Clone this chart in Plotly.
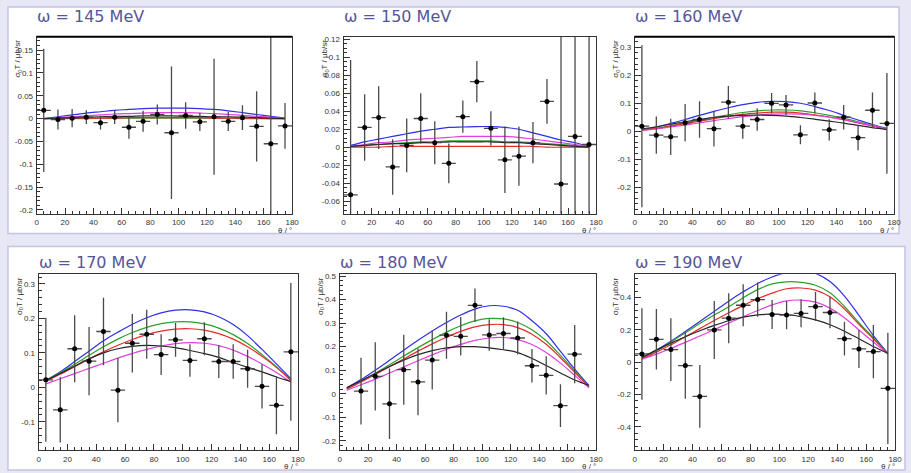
import plotly.graph_objects as go

# ---------------- data: target-asymmetry observable vs. pion angle ----------------
ENERGIES = [145, 150, 160, 170, 180, 190]          # photon energy in MeV
THETA_PTS = [5, 15, 25, 35, 45, 55, 65, 75, 85, 95, 105, 115, 125, 135, 145, 155, 165, 175]
THETA_PTS_180 = [15, 25, 35, 45, 55, 65, 75, 85, 95, 105, 115, 125, 135, 145, 155, 165]
THETA_HALF_BIN = 5
CURVE_THETA = [5, 15, 25, 35, 45, 55, 65, 75, 85, 95, 105, 115, 125, 135, 145, 155, 165, 175]

VAL_145 = [0.018, -0.002, 0.001, 0.003, -0.009, 0.003, -0.019, -0.006, 0.009, -0.031,
           0.007, -0.007, 0.004, -0.006, 0.002, -0.017, -0.055, -0.016]
ERR_145 = [0.135, 0.022, 0.020, 0.015, 0.015, 0.015, 0.025, 0.023, 0.022, 0.145,
           0.029, 0.020, 0.127, 0.021, 0.027, 0.077, 0.300, 0.050]

VAL_150 = [-0.053, 0.022, 0.033, -0.022, 0.002, 0.032, 0.005, -0.018, 0.034, 0.073,
           0.021, -0.014, -0.010, 0.005, 0.051, -0.041, 0.012, 0.003]
ERR_150 = [0.150, 0.037, 0.035, 0.031, 0.030, 0.028, 0.024, 0.022, 0.018, 0.023,
           0.019, 0.037, 0.033, 0.023, 0.025, 0.200, 0.200, 0.200]

VAL_160 = [0.018, -0.014, -0.020, 0.030, 0.042, 0.009, 0.104, 0.018, 0.042, 0.100,
           0.094, -0.013, 0.101, 0.005, 0.050, -0.023, 0.075, 0.028]
ERR_160 = [0.290, 0.067, 0.065, 0.067, 0.065, 0.064, 0.058, 0.045, 0.040, 0.037,
           0.036, 0.034, 0.038, 0.038, 0.044, 0.045, 0.064, 0.180]

VAL_170 = [0.022, -0.065, 0.112, 0.076, 0.162, -0.008, 0.128, 0.154, 0.095, 0.138,
           0.078, 0.141, 0.075, 0.075, 0.054, 0.003, -0.052, 0.103]
ERR_170 = [0.180, 0.095, 0.097, 0.099, 0.098, 0.093, 0.085, 0.071, 0.059, 0.049,
           0.047, 0.048, 0.048, 0.050, 0.055, 0.064, 0.084, 0.200]

VAL_180 = [0.011, 0.074, -0.043, 0.102, 0.050, 0.143, 0.249, 0.244, 0.376, 0.250,
           0.256, 0.237, 0.119, 0.078, -0.051, 0.168]
ERR_180 = [0.142, 0.145, 0.150, 0.149, 0.142, 0.125, 0.100, 0.082, 0.071, 0.067,
           0.069, 0.070, 0.071, 0.081, 0.091, 0.124]

VAL_190 = [0.051, 0.142, 0.078, -0.021, -0.212, 0.200, 0.273, 0.353, 0.388, 0.296,
           0.292, 0.302, 0.345, 0.308, 0.146, 0.082, 0.066, -0.162]
ERR_190 = [0.283, 0.188, 0.195, 0.205, 0.195, 0.180, 0.155, 0.130, 0.106, 0.090,
           0.088, 0.086, 0.090, 0.097, 0.105, 0.118, 0.165, 0.345]

# model predictions sampled on CURVE_THETA
BLUE_145 = [0.000, 0.004, 0.008, 0.012, 0.015, 0.018, 0.020, 0.022, 0.023, 0.023,
            0.023, 0.022, 0.020, 0.017, 0.013, 0.009, 0.005, 0.001]
GREEN_145 = [0.000, 0.000, 0.000, 0.000, 0.001, 0.001, 0.001, 0.001, 0.001, 0.001,
             0.001, 0.001, 0.001, 0.001, 0.000, 0.000, 0.000, 0.000]
RED_145 = [0.000, 0.000, 0.001, 0.001, 0.001, 0.001, 0.002, 0.002, 0.002, 0.002,
           0.002, 0.002, 0.001, 0.001, 0.001, 0.001, 0.000, 0.000]
MAGENTA_145 = [0.000, 0.002, 0.004, 0.006, 0.008, 0.010, 0.011, 0.012, 0.013, 0.013,
               0.013, 0.012, 0.011, 0.009, 0.007, 0.005, 0.003, 0.000]
BLACK_145 = [0.000, 0.001, 0.002, 0.003, 0.004, 0.005, 0.005, 0.006, 0.006, 0.006,
             0.005, 0.005, 0.004, 0.004, 0.003, 0.002, 0.001, 0.000]

BLUE_150 = [0.002, 0.006, 0.009, 0.012, 0.015, 0.018, 0.020, 0.022, 0.0225, 0.023,
            0.023, 0.022, 0.020, 0.016, 0.012, 0.008, 0.005, 0.001]
GREEN_150 = [0.001, 0.002, 0.003, 0.004, 0.005, 0.006, 0.006, 0.007, 0.007, 0.007,
             0.007, 0.006, 0.006, 0.005, 0.004, 0.003, 0.002, 0.000]
RED_150 = [0.000, 0.000, 0.000, 0.001, 0.001, 0.001, 0.001, 0.001, 0.001, 0.001,
           0.001, 0.001, 0.001, 0.001, 0.000, 0.000, 0.000, 0.000]
MAGENTA_150 = [0.001, 0.003, 0.005, 0.006, 0.008, 0.009, 0.010, 0.011, 0.012, 0.012,
               0.012, 0.012, 0.011, 0.009, 0.007, 0.005, 0.003, 0.001]
BLACK_150 = [0.001, 0.002, 0.003, 0.004, 0.004, 0.005, 0.005, 0.006, 0.006, 0.006,
             0.006, 0.005, 0.005, 0.004, 0.003, 0.002, 0.001, 0.000]

BLUE_160 = [0.005, 0.015, 0.028, 0.042, 0.057, 0.071, 0.084, 0.095, 0.103, 0.107,
            0.106, 0.100, 0.088, 0.074, 0.057, 0.040, 0.024, 0.010]
GREEN_160 = [0.004, 0.011, 0.020, 0.030, 0.040, 0.050, 0.059, 0.067, 0.073, 0.076,
             0.076, 0.073, 0.066, 0.057, 0.046, 0.034, 0.021, 0.008]
RED_160 = [0.004, 0.010, 0.018, 0.027, 0.036, 0.045, 0.053, 0.060, 0.065, 0.068,
           0.068, 0.065, 0.059, 0.051, 0.041, 0.030, 0.019, 0.007]
MAGENTA_160 = [0.003, 0.008, 0.015, 0.022, 0.030, 0.038, 0.045, 0.052, 0.057, 0.061,
               0.062, 0.061, 0.057, 0.050, 0.041, 0.031, 0.020, 0.008]
BLACK_160 = [0.008, 0.016, 0.025, 0.034, 0.042, 0.049, 0.054, 0.057, 0.058, 0.057,
             0.054, 0.049, 0.043, 0.036, 0.029, 0.021, 0.013, 0.006]

BLUE_170 = [0.020, 0.045, 0.075, 0.105, 0.135, 0.160, 0.183, 0.202, 0.216, 0.224,
            0.225, 0.219, 0.205, 0.182, 0.150, 0.110, 0.068, 0.025]
GREEN_170 = [0.020, 0.042, 0.067, 0.093, 0.118, 0.140, 0.159, 0.174, 0.185, 0.190,
             0.190, 0.184, 0.172, 0.153, 0.127, 0.095, 0.060, 0.022]
RED_170 = [0.018, 0.038, 0.060, 0.082, 0.103, 0.122, 0.139, 0.153, 0.163, 0.169,
           0.170, 0.166, 0.156, 0.140, 0.118, 0.090, 0.058, 0.020]
MAGENTA_170 = [0.010, 0.025, 0.040, 0.055, 0.070, 0.085, 0.098, 0.110, 0.120, 0.127,
               0.130, 0.128, 0.121, 0.108, 0.090, 0.068, 0.043, 0.015]
BLACK_170 = [0.020, 0.040, 0.062, 0.083, 0.100, 0.112, 0.119, 0.122, 0.120, 0.115,
             0.107, 0.098, 0.087, 0.072, 0.058, 0.045, 0.030, 0.017]

BLUE_180 = [0.025, 0.060, 0.100, 0.142, 0.185, 0.227, 0.267, 0.303, 0.335, 0.360,
            0.374, 0.372, 0.355, 0.310, 0.255, 0.180, 0.105, 0.035]
GREEN_180 = [0.020, 0.052, 0.087, 0.123, 0.160, 0.196, 0.230, 0.262, 0.289, 0.310,
             0.320, 0.318, 0.303, 0.272, 0.225, 0.163, 0.097, 0.030]
RED_180 = [0.020, 0.050, 0.082, 0.115, 0.148, 0.181, 0.212, 0.240, 0.265, 0.284,
           0.294, 0.294, 0.281, 0.253, 0.210, 0.153, 0.091, 0.030]
MAGENTA_180 = [0.015, 0.038, 0.062, 0.088, 0.114, 0.140, 0.165, 0.189, 0.210, 0.227,
               0.237, 0.239, 0.230, 0.209, 0.175, 0.130, 0.078, 0.025]
BLACK_180 = [0.025, 0.055, 0.086, 0.116, 0.143, 0.166, 0.183, 0.195, 0.200, 0.200,
             0.195, 0.187, 0.175, 0.150, 0.120, 0.088, 0.058, 0.035]

BLUE_190 = [0.025, 0.075, 0.130, 0.190, 0.252, 0.315, 0.378, 0.436, 0.488, 0.528,
            0.556, 0.565, 0.550, 0.500, 0.410, 0.290, 0.165, 0.055]
GREEN_190 = [0.025, 0.070, 0.125, 0.182, 0.240, 0.293, 0.343, 0.400, 0.450, 0.485,
             0.498, 0.495, 0.477, 0.430, 0.345, 0.245, 0.150, 0.055]
RED_190 = [0.020, 0.062, 0.108, 0.158, 0.208, 0.258, 0.306, 0.352, 0.393, 0.428,
           0.455, 0.460, 0.447, 0.405, 0.330, 0.235, 0.145, 0.055]
MAGENTA_190 = [0.018, 0.050, 0.085, 0.123, 0.162, 0.202, 0.242, 0.282, 0.320, 0.355,
               0.380, 0.385, 0.372, 0.335, 0.275, 0.200, 0.125, 0.050]
BLACK_190 = [0.030, 0.075, 0.118, 0.158, 0.195, 0.228, 0.257, 0.279, 0.293, 0.298,
             0.294, 0.283, 0.262, 0.232, 0.192, 0.145, 0.097, 0.055]

X_TICKS = [0, 20, 40, 60, 80, 100, 120, 140, 160, 180]
Y_TICKS_145 = [-0.2, -0.15, -0.1, -0.05, 0, 0.05, 0.1, 0.15]
Y_TICKS_150 = [-0.06, -0.04, -0.02, 0, 0.02, 0.04, 0.06, 0.08, 0.1, 0.12]
Y_TICKS_160 = [-0.2, -0.1, 0, 0.1, 0.2, 0.3]
Y_TICKS_170 = [-0.1, 0, 0.1, 0.2, 0.3]
Y_TICKS_180 = [-0.2, -0.1, 0, 0.1, 0.2, 0.3, 0.4, 0.5]
Y_TICKS_190 = [-0.4, -0.2, 0, 0.2, 0.4]

PANELS = [
    (THETA_PTS, VAL_145, ERR_145, [BLUE_145, GREEN_145, RED_145, MAGENTA_145, BLACK_145], Y_TICKS_145),
    (THETA_PTS, VAL_150, ERR_150, [BLUE_150, GREEN_150, RED_150, MAGENTA_150, BLACK_150], Y_TICKS_150),
    (THETA_PTS, VAL_160, ERR_160, [BLUE_160, GREEN_160, RED_160, MAGENTA_160, BLACK_160], Y_TICKS_160),
    (THETA_PTS, VAL_170, ERR_170, [BLUE_170, GREEN_170, RED_170, MAGENTA_170, BLACK_170], Y_TICKS_170),
    (THETA_PTS_180, VAL_180, ERR_180, [BLUE_180, GREEN_180, RED_180, MAGENTA_180, BLACK_180], Y_TICKS_180),
    (THETA_PTS, VAL_190, ERR_190, [BLUE_190, GREEN_190, RED_190, MAGENTA_190, BLACK_190], Y_TICKS_190),
]

# ---------------- styling / geometry ----------------
W, H = 911, 473
MODEL_COLORS = ["#2f2fe6", "#2ca02c", "#e62b2b", "#e040e0", "#262626"]
TITLE_COLOR = "#55559a"
AXIS_COLOR = "#333333"
PAGE_BG = "#e7e7f5"
PANEL_EDGE = "#c3c3e6"

# plot frame boxes in pixels: (left, right, top, bottom)
BOXES = [
    (35, 293, 35, 213),
    (345, 600, 35, 213),
    (639, 901, 35, 213),
    (37, 299, 274, 451),
    (341, 600, 274, 451),
    (639, 902, 274, 451),
]
TITLE_GAP = [20, 20, 20, 12, 12, 12]
Y_RANGES = [(-0.208, 0.179), (-0.074, 0.123), (-0.295, 0.338),
            (-0.182, 0.328), (-0.24, 0.508), (-0.545, 0.545)]
Y_MINOR = [0.01, 0.005, 0.02, 0.02, 0.02, 0.04]
THICK_TOP = [True, False, True, False, False, False]


def px_x(p):
    return p / W


def px_y(p):
    return 1 - p / H


fig = go.Figure()
shapes = [
    dict(type="rect", xref="paper", yref="paper", x0=px_x(6), x1=px_x(906),
         y0=px_y(233), y1=px_y(5), fillcolor="white",
         line=dict(color=PANEL_EDGE, width=1.5), layer="below"),
    dict(type="rect", xref="paper", yref="paper", x0=px_x(6), x1=px_x(912),
         y0=px_y(471), y1=px_y(246), fillcolor="white",
         line=dict(color=PANEL_EDGE, width=1.5), layer="below"),
]
annotations = []

tick_font = dict(family="Liberation Sans, Arial, sans-serif", size=8, color=AXIS_COLOR)
small_font = dict(family="Liberation Sans, Arial, sans-serif", size=8, color=AXIS_COLOR)

for i, (theta, vals, errs, curves, yticks) in enumerate(PANELS):
    n = i + 1
    xa = "x" if n == 1 else f"x{n}"
    ya = "y" if n == 1 else f"y{n}"
    left, right, top, bottom = BOXES[i]

    for color, curve in zip(MODEL_COLORS, curves):
        fig.add_trace(go.Scatter(
            x=CURVE_THETA, y=curve, mode="lines", xaxis=xa, yaxis=ya,
            line=dict(color=color, width=1.2, shape="spline", smoothing=1.0),
            hoverinfo="skip", showlegend=False))

    fig.add_trace(go.Scatter(
        x=theta, y=vals, mode="markers", xaxis=xa, yaxis=ya,
        marker=dict(color="black", size=5, symbol="circle"),
        error_y=dict(type="data", array=errs, color="#4a4a4a", thickness=1.3, width=0),
        error_x=dict(type="constant", value=THETA_HALF_BIN, color="#4a4a4a", thickness=1.3, width=0),
        showlegend=False))

    axis_common = dict(
        showgrid=False, zeroline=False, showline=True, mirror=True,
        linecolor=AXIS_COLOR, linewidth=1, ticks="inside", ticklen=6,
        tickwidth=1, tickcolor=AXIS_COLOR, tickfont=tick_font,
    )
    fig.layout[f"xaxis{'' if n == 1 else n}"] = dict(
        axis_common, domain=[px_x(left), px_x(right)], range=[0, 180],
        anchor=ya, tickmode="array", tickvals=X_TICKS,
        ticktext=[str(t) for t in X_TICKS], ticklabelstandoff=1,
        minor=dict(ticks="inside", ticklen=3, tickcolor=AXIS_COLOR, dtick=5, tick0=0),
    )
    fig.layout[f"yaxis{'' if n == 1 else n}"] = dict(
        axis_common, domain=[px_y(bottom), px_y(top)], range=list(Y_RANGES[i]),
        anchor=xa, tickmode="array", tickvals=yticks,
        ticktext=[f"{t:g}" for t in yticks], ticklabelstandoff=1,
        minor=dict(ticks="inside", ticklen=3, tickcolor=AXIS_COLOR,
                   dtick=Y_MINOR[i], tick0=0),
    )

    if THICK_TOP[i]:
        shapes.append(dict(type="line", xref="paper", yref="paper",
                           x0=px_x(left), x1=px_x(right), y0=px_y(top), y1=px_y(top),
                           line=dict(color="black", width=2)))

    annotations.append(dict(
        text=f"ω = {ENERGIES[i]} MeV", xref="paper", yref="paper",
        x=px_x(left - 2), y=px_y(top - TITLE_GAP[i]), xanchor="left", yanchor="middle",
        showarrow=False, font=dict(family="DejaVu Sans, sans-serif", size=16, color=TITLE_COLOR)))
    annotations.append(dict(
        text="σ<sub>0</sub>T / μb/sr", xref="paper", yref="paper",
        x=px_x(left - 19), y=px_y(top + 1), xanchor="center", yanchor="top",
        textangle=-90, showarrow=False, font=small_font))
    annotations.append(dict(
        text="θ / °", xref="paper", yref="paper",
        x=px_x(right + 2), y=px_y(bottom + 10), xanchor="right", yanchor="top",
        showarrow=False, font=small_font))

fig.update_layout(
    width=W, height=H, autosize=False,
    margin=dict(l=0, r=0, t=0, b=0),
    paper_bgcolor=PAGE_BG, plot_bgcolor="white",
    shapes=shapes, annotations=annotations, showlegend=False,
)

fig.write_html("out.html")
